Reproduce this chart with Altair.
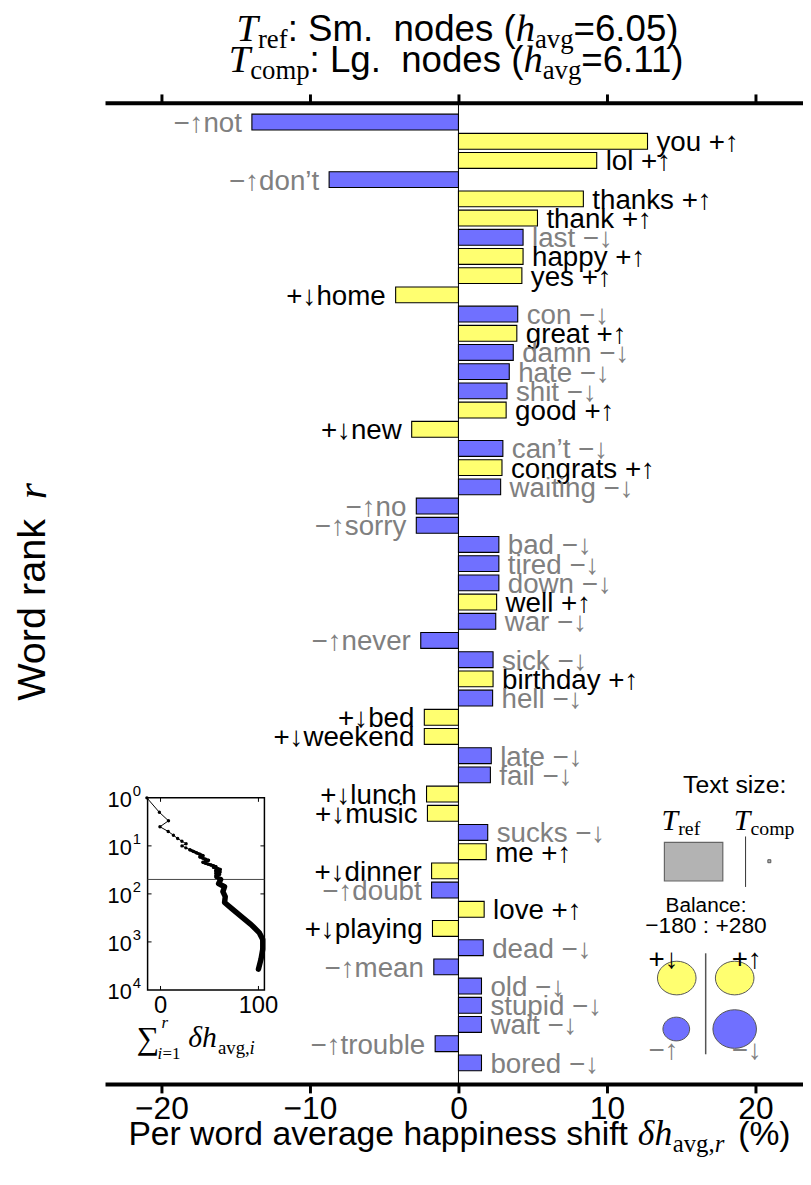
import altair as alt
import pandas as pd

# ---------------- data ----------------
words = ["not", "you", "lol", "don’t", "thanks", "thank", "last", "happy", "yes", "home",
         "con", "great", "damn", "hate", "shit", "good", "new", "can’t", "congrats", "waiting",
         "no", "sorry", "bad", "tired", "down", "well", "war", "never", "sick", "birthday",
         "hell", "bed", "weekend", "late", "fail", "lunch", "music", "sucks", "me", "dinner",
         "doubt", "love", "playing", "dead", "mean", "old", "stupid", "wait", "trouble", "bored"]
kinds = ["−", "+", "+", "−", "+", "+", "−", "+", "+", "+",
         "−", "+", "−", "−", "−", "+", "+", "−", "+", "−",
         "−", "−", "−", "−", "−", "+", "−", "−", "−", "+",
         "−", "+", "+", "−", "−", "+", "+", "−", "+", "+",
         "−", "+", "+", "−", "−", "−", "−", "−", "−", "−"]
shifts = [-13.91, 12.73, 9.31, -8.71, 8.41, 5.32, 4.35, 4.35, 4.27, -4.23,
          3.99, 3.93, 3.69, 3.42, 3.27, 3.21, -3.15, 2.99, 2.93, 2.84,
          -2.84, -2.84, 2.72, 2.72, 2.72, 2.57, 2.51, -2.54, 2.33, 2.33,
          2.30, -2.30, -2.30, 2.21, 2.15, -2.15, -2.09, 1.97, 1.87, -1.81,
          -1.81, 1.73, -1.75, 1.67, -1.66, 1.55, 1.55, 1.55, -1.57, 1.55]
rank_ticks = [1, 5, 10, 15, 20, 25, 30, 35, 40, 45, 50]
shift_ticks = [-20, -10, 0, 10, 20]

# inset: cumulative shift beyond the top 50 words
inset_tail_ranks = [61, 71, 90, 114, 151, 198, 293, 435, 650, 890, 1420, 2290, 3690]
inset_tail_cum = [59.3, 65.4, 63.7, 66.1, 65.4, 72.2, 82.3, 92.5, 101.0, 104.4, 104.4, 102.6, 100.0]
inset_decades = [1, 10, 100, 1000, 10000]
inset_exponents = ["0", "1", "2", "3", "4"]
inset_xticks = [0, 100]
inset_cut_rank = [50]

# ---------------- styling / layout ----------------
SANS = "Liberation Sans"
SERIF = "Liberation Serif"
YELLOW = "#ffff70"
BLUE = "#7070ff"
GRAY = "#808080"
OX, OY = 106, 98          # page position of plot origin (incl. 8px body margin)
W, H = 705, 991
X_DOMAIN = [-23.8, 23.2]
Y_DOMAIN = [0, 51.1]

ranks = list(range(1, len(words) + 1))


def make_label(w, k, s):
    if s > 0:
        return f"{w} {k}{'↑' if k == '+' else '↓'}"
    return f"{k}{'↓' if k == '+' else '↑'}{w}"


df = pd.DataFrame({
    "rank": ranks, "word": words, "kind": kinds, "shift": shifts,
    "label": [make_label(w, k, s) for w, k, s in zip(words, kinds, shifts)],
})

cum = pd.Series(shifts).cumsum().round(2).tolist()
inset_df = pd.DataFrame({"rank": ranks + inset_tail_ranks, "cum": cum + inset_tail_cum})

xs = alt.Scale(domain=X_DOMAIN, nice=False, zero=False, padding=0)
ys = alt.Scale(domain=Y_DOMAIN, nice=False, zero=False, reverse=True, padding=0)

one = pd.DataFrame({"k": [0]})

# approximate glyph widths (Helvetica / Times metrics, per 1000 em)
HELV = {" ": 278, "\u00a0": 278, ":": 278, ".": 278, ",": 278, "(": 333, ")": 333, "=": 584,
        "%": 889, "+": 584, "S": 667, "L": 556, "P": 667, "W": 944, "a": 556, "c": 500, "d": 556,
        "e": 556, "f": 278, "g": 556, "h": 556, "i": 222, "k": 500, "m": 833, "n": 556,
        "o": 556, "p": 556, "r": 333, "s": 500, "t": 278, "v": 500, "w": 722}
TIMES = {"r": 333, "e": 444, "f": 333, "a": 444, "v": 500, "g": 500, "c": 444, "o": 500,
         "m": 778, "p": 500, ",": 250, "=": 564, "1": 500, "i": 278}
TIMES_I = {"T": 556, "h": 500, "r": 389, "i": 278, "δ": 480}
TABLES = {"sans": HELV, "serif": TIMES, "ital": TIMES_I}


def twidth(s, kind, size):
    return sum(TABLES[kind].get(c, 556) for c in s) * size / 1000.0


def txt(s, x, y, size, kind="sans", color="black", align="left", angle=0, baseline="alphabetic"):
    kw = dict(text=s, font=SANS if kind == "sans" else SERIF, fontSize=size,
              fontStyle="italic" if kind == "ital" else "normal",
              color=color, align=align, baseline=baseline)
    if angle:
        kw["angle"] = angle
    return alt.Chart(one).mark_text(**kw).encode(x=alt.value(x - OX), y=alt.value(y - OY))


def text_line(pieces, center_x, base_y):
    total = sum(twidth(s, k, sz) + g for s, k, sz, _, g in pieces)
    x = center_x - total / 2.0
    out = []
    for s, k, sz, dy, g in pieces:
        x += g
        out.append(txt(s, x, base_y + dy, sz, k))
        x += twidth(s, k, sz)
    return out


def rect(x1, y1, x2, y2, fill, stroke, sw=1):
    return alt.Chart(one).mark_rect(fill=fill, stroke=stroke, strokeWidth=sw).encode(
        x=alt.value(x1 - OX), x2=alt.value(x2 - OX), y=alt.value(y1 - OY), y2=alt.value(y2 - OY))


def vrule(x, y1, y2, color, sw=1):
    return alt.Chart(one).mark_rule(color=color, strokeWidth=sw).encode(
        x=alt.value(x - OX), y=alt.value(y1 - OY), y2=alt.value(y2 - OY))


def ellipse(cx, cy, w, h, fill):
    r = h / w
    path = f"M-1,0A1,{r:.3f},0,1,1,1,0A1,{r:.3f},0,1,1,-1,0Z"
    return alt.Chart(one).mark_point(shape=path, size=w * w, filled=True, fill=fill,
                                     stroke="#555555", strokeWidth=1, opacity=1).encode(
        x=alt.value(cx - OX), y=alt.value(cy - OY))


# ---------------- main word-shift panel ----------------
bottom_axis = alt.Axis(orient="bottom", values=shift_ticks, title=None, grid=False, format="d",
                       tickSize=9, tickWidth=3, tickColor="black", domainWidth=4,
                       domainColor="black", labelFontSize=32, labelFont=SANS,
                       labelColor="black", labelPadding=1)
top_axis = alt.Axis(orient="top", values=shift_ticks, title=None, grid=False, labels=False,
                    tickSize=9, tickWidth=3, tickColor="black", domainWidth=4, domainColor="black")
left_axis = alt.Axis(orient="left", values=rank_ticks, title=None, grid=False, format="d",
                     tickSize=9, tickWidth=3, tickColor="black", domainWidth=4,
                     domainColor="black", labelFontSize=32, labelFont=SANS,
                     labelColor="black", labelPadding=7)

bars = alt.Chart(df).mark_bar(orient="horizontal", size=16, stroke="black", strokeWidth=1.1).encode(
    x=alt.X("shift:Q", scale=xs, axis=bottom_axis),
    x2=alt.datum(0),
    y=alt.Y("rank:Q", scale=ys, axis=left_axis),
    color=alt.condition("datum.kind == '+'", alt.value(YELLOW), alt.value(BLUE)),
)

zero_rule = alt.Chart(pd.DataFrame({"zero": [0]})).mark_rule(color="black", strokeWidth=1).encode(
    x=alt.X("zero:Q", scale=xs, axis=top_axis))

label_color = alt.condition("datum.kind == '+'", alt.value("black"), alt.value(GRAY))
right_labels = alt.Chart(df).transform_filter("datum.shift > 0").mark_text(
    align="left", baseline="middle", dx=9, dy=2, font=SANS, fontSize=28).encode(
    x=alt.X("shift:Q", scale=xs, axis=None), y=alt.Y("rank:Q", scale=ys, axis=None),
    text="label:N", color=label_color)
left_labels = alt.Chart(df).transform_filter("datum.shift < 0").mark_text(
    align="right", baseline="middle", dx=-10, dy=2, font=SANS, fontSize=28).encode(
    x=alt.X("shift:Q", scale=xs, axis=None), y=alt.Y("rank:Q", scale=ys, axis=None),
    text="label:N", color=label_color)

deco = []
# title (two lines)
deco += text_line([("T", "ital", 39, 0, 0), ("ref", "serif", 27, 7, 0), (": Sm.\u00a0 nodes (", "sans", 37, 0, 0),
                   ("h", "ital", 39, 0, 0), ("avg", "serif", 27, 7, 0), ("=6.05)", "sans", 37, 0, 0)], 462, 36)
deco += text_line([("T", "ital", 39, 0, 0), ("comp", "serif", 27, 7, 0), (": Lg.\u00a0 nodes (", "sans", 37, 0, 0),
                   ("h", "ital", 39, 0, 0), ("avg", "serif", 27, 7, 0), ("=6.11)", "sans", 37, 0, 0)], 462, 67)
# x-axis title
deco += text_line([("Per word average happiness shift", "sans", 34, 0, 0), ("δh", "ital", 36, 0, 10),
                   ("avg,", "serif", 25, 7, 0), ("r", "ital", 25, 7, 0), ("(%)", "sans", 34, 0, 14)], 464, 1151)
# y-axis title (rotated)
deco.append(txt("Word rank", 33, 702, 40, "sans", align="left", angle=270, baseline="middle"))
deco.append(txt("r", 33, 702 - twidth("Word rank ", "sans", 40) - 8, 42, "ital",
                align="left", angle=270, baseline="middle"))

# text-size legend
deco.append(txt("Text size:", 742, 795, 25, "sans", align="center"))
deco.append(txt("T", 668, 832, 30, "ital"))
deco.append(txt("ref", 685, 838, 20, "serif"))
deco.append(txt("T", 741, 832, 30, "ital"))
deco.append(txt("comp", 758, 838, 20, "serif"))
deco.append(rect(671, 845, 730, 884, "#b3b3b3", "#666666", 1.2))
deco.append(vrule(753, 839, 890, "#333333", 1))
deco.append(rect(775.5, 862.5, 778.5, 865.5, "#b3b3b3", "#555555", 1))
# balance legend
deco.append(txt("Balance:", 713, 915, 21, "sans", align="center"))
deco.append(txt("−180 : +280", 713, 937, 23, "sans", align="center"))
deco.append(vrule(712.7, 957, 1059, "#555555", 1.5))
deco.append(ellipse(683.5, 982, 39, 34, YELLOW))
deco.append(ellipse(742, 982, 39, 34, YELLOW))
deco.append(ellipse(683, 1033.5, 27, 24, BLUE))
deco.append(ellipse(742, 1033.5, 44, 39, BLUE))
deco.append(txt("+↓", 655, 972, 28, "sans"))
deco.append(txt("+↑", 739, 972, 28, "sans"))
deco.append(txt("−↑", 655, 1064, 28, "sans", color=GRAY))
deco.append(txt("−↓", 739, 1064, 28, "sans", color=GRAY))

main = alt.layer(bars, zero_rule, right_labels, left_labels, *deco)

# ---------------- inset: cumulative shift vs rank ----------------
IX_RANGE = [149 - OX, 267 - OX]
IY_RANGE = [800 - OY, 994 - OY]
ixs = alt.Scale(domain=[-13.2, 106.1], range=IX_RANGE, nice=False, zero=False)
iys = alt.Scale(type="log", domain=[1, 10000], range=IY_RANGE, nice=False)

inset_frame = alt.Chart(one).mark_rect(fill="white", stroke="black", strokeWidth=1.5).encode(
    x=alt.value(IX_RANGE[0]), x2=alt.value(IX_RANGE[1]), y=alt.value(IY_RANGE[0]), y2=alt.value(IY_RANGE[1]))

dec_df = pd.DataFrame({"d": inset_decades, "e": inset_exponents})
mid_dec = dec_df.iloc[1:4]
yt_left = alt.Chart(mid_dec).mark_rule(color="black", strokeWidth=1).encode(
    x=alt.value(IX_RANGE[0]), x2=alt.value(IX_RANGE[0] + 4), y=alt.Y("d:Q", scale=iys, axis=None))
yt_right = alt.Chart(mid_dec).mark_rule(color="black", strokeWidth=1).encode(
    x=alt.value(IX_RANGE[1] - 4), x2=alt.value(IX_RANGE[1]), y=alt.Y("d:Q", scale=iys, axis=None))
xt_df = pd.DataFrame({"v": inset_xticks, "t": [str(v) for v in inset_xticks]})
xt_bottom = alt.Chart(xt_df).mark_rule(color="black", strokeWidth=1).encode(
    x=alt.X("v:Q", scale=ixs, axis=None), y=alt.value(IY_RANGE[1] - 4), y2=alt.value(IY_RANGE[1]))
xt_top = alt.Chart(xt_df).mark_rule(color="black", strokeWidth=1).encode(
    x=alt.X("v:Q", scale=ixs, axis=None), y=alt.value(IY_RANGE[0]), y2=alt.value(IY_RANGE[0] + 4))

cut_line = alt.Chart(pd.DataFrame({"r": inset_cut_rank})).mark_rule(color="#444444", strokeWidth=1).encode(
    x=alt.value(IX_RANGE[0]), x2=alt.value(IX_RANGE[1]), y=alt.Y("r:Q", scale=iys, axis=None))

base_inset = alt.Chart(inset_df).encode(
    x=alt.X("cum:Q", scale=ixs, axis=None), y=alt.Y("rank:Q", scale=iys, axis=None),
    order=alt.Order("rank:Q"))
curve_thin = base_inset.mark_line(color="black", strokeWidth=1)
curve_mid = base_inset.transform_filter("datum.rank >= 12").mark_line(color="black", strokeWidth=3, strokeJoin="round")
curve_thick = base_inset.transform_filter("datum.rank >= 50").mark_line(color="black", strokeWidth=5.5, strokeJoin="round", strokeCap="round")
curve_pts = base_inset.transform_filter("datum.rank <= 50").mark_circle(color="black", size=12, opacity=1)

ylab_base = alt.Chart(dec_df).mark_text(text="10", align="right", baseline="middle", dy=2,
                                        font=SANS, fontSize=22, color="black").encode(
    x=alt.value(133 - OX), y=alt.Y("d:Q", scale=iys, axis=None))
ylab_exp = alt.Chart(dec_df).mark_text(align="left", baseline="middle", dy=-7,
                                       font=SANS, fontSize=15, color="black").encode(
    x=alt.value(134 - OX), y=alt.Y("d:Q", scale=iys, axis=None), text="e:N")
xlab = alt.Chart(xt_df).mark_text(align="center", baseline="alphabetic", font=SANS,
                                  fontSize=24, color="black").encode(
    x=alt.X("v:Q", scale=ixs, axis=None), y=alt.value(1017 - OY), text="t:N")

sigma = [
    txt("∑", 138, 1054, 32, "serif"),
    txt("r", 163, 1032, 17, "ital"),
    txt("i", 159, 1064, 17, "ital"),
    txt("=1", 164, 1064, 17, "serif"),
    txt("δh", 190, 1052, 30, "ital"),
    txt("avg,", 220, 1059, 19, "serif"),
    txt("i", 252, 1059, 19, "ital"),
]

inset = alt.layer(inset_frame, yt_left, yt_right, xt_bottom, xt_top, cut_line,
                  curve_thin, curve_mid, curve_thick, curve_pts, ylab_base, ylab_exp, xlab, *sigma)

chart = alt.layer(main, inset).resolve_scale(x="independent", y="independent").properties(
    width=W, height=H, autosize="none",
    padding={"left": OX - 8, "top": OY - 8, "right": 0, "bottom": 74},
).configure_view(stroke="transparent")

chart.save("out.html", embed_options={"renderer": "svg", "actions": False})
